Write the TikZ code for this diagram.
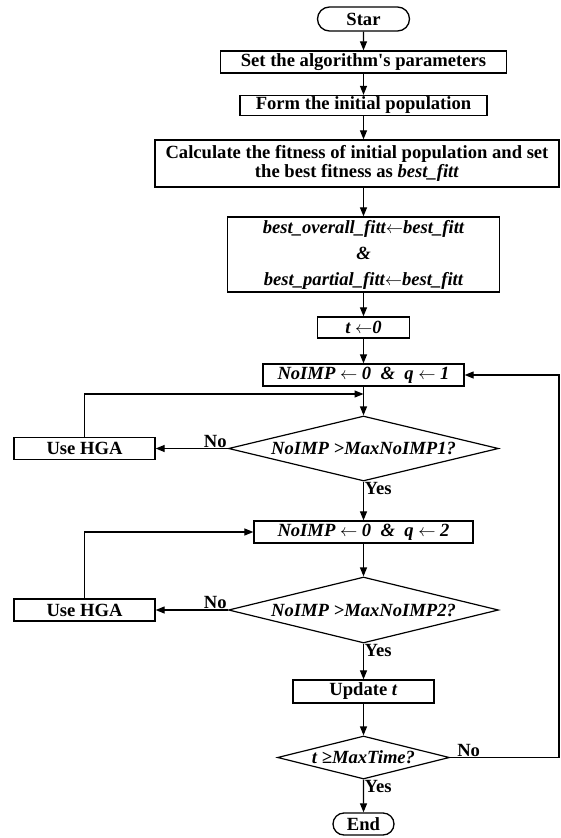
\documentclass[tikz,border=0pt]{standalone}
\usepackage{fontspec}
\setmainfont{Liberation Serif}
\usepackage{tikz}
\usetikzlibrary{arrows.meta,shapes.geometric,shapes.misc}

\begin{document}
\begin{tikzpicture}[x=1pt,y=-1pt,
    box/.style={draw,line width=1.3pt,rectangle,inner sep=0pt,align=center,
      font=\fontsize{18.6}{19}\selectfont\bfseries},
    term/.style={box,rounded rectangle},
    cond/.style={draw,line width=1.2pt,diamond,aspect=4,inner sep=0pt,
      font=\fontsize{18.6}{19}\selectfont\bfseries\itshape},
    lab/.style={inner sep=1pt,font=\fontsize{18.6}{19}\selectfont\bfseries},
    flow/.style={line width=1.2pt,-{Triangle[length=9pt,width=7pt]}}]
  \useasboundingbox (0,0) rectangle (560,838);
  % main column
  \node[term,minimum width=92pt,minimum height=24pt] (star) at (363.5,19) {Star};
  \node[box,minimum width=286pt,minimum height=22pt] (set) at (363.5,62) {Set the algorithm\textquotesingle s parameters};
  \node[box,minimum width=247pt,minimum height=20pt] (form) at (363.5,105.5) {Form the initial population};
  \node[box,minimum width=404pt,minimum height=47pt] (calc) at (357,163.5) {Calculate the fitness of initial population and set\\ the best fitness as \textit{best\_fitt}};
  \node[box,minimum width=272pt,minimum height=75pt,font=\fontsize{18.6}{26}\selectfont\bfseries\itshape] (best) at (363.5,254.5) {best\_overall\_fitt$\leftarrow$best\_fitt\\ \&\\ best\_partial\_fitt$\leftarrow$best\_fitt};
  \node[box,minimum width=92pt,minimum height=21pt] (tz) at (363.5,327.5) {\textit{t $\leftarrow$0}};
  \node[box,minimum width=201pt,minimum height=22pt] (imp1) at (363.5,375) {\textit{NoIMP $\leftarrow$ 0 \ \& \ q $\leftarrow$ 1}};
  \node[cond,minimum width=270pt,minimum height=65pt] (cond1) at (363.5,448.5) {NoIMP >MaxNoIMP1?};
  \node[box,minimum width=141pt,minimum height=22pt] (hga1) at (84.5,448.5) {Use HGA};
  \node[box,minimum width=219pt,minimum height=22pt] (imp2) at (363.5,532) {\textit{NoIMP $\leftarrow$ 0 \ \& \ q $\leftarrow$ 2}};
  \node[cond,minimum width=270pt,minimum height=66pt] (cond2) at (363.5,610) {NoIMP >MaxNoIMP2?};
  \node[box,minimum width=141pt,minimum height=22pt] (hga2) at (84.5,610) {Use HGA};
  \node[box,minimum width=141pt,minimum height=23pt] (upd) at (363.5,691.5) {Update \textit{t}};
  \node[cond,inner sep=-5pt,minimum width=172pt,minimum height=43pt] (cond3) at (363.5,757.5) {t ≥MaxTime?};
  \node[term,minimum width=61pt,minimum height=22pt] (stop) at (363.5,824) {End};
  \coordinate (join1) at (363.5,394);
  \coordinate (back) at (559,0);
  % labels
  \node[lab,anchor=south east] (no1) at (cond1.west) {No};
  \node[lab,anchor=north west] (yes1) at (cond1.south) {Yes};
  \node[lab,anchor=south east] (no2) at (cond2.west) {No};
  \node[lab,anchor=north west] (yes2) at (cond2.south) {Yes};
  \node[lab,anchor=south west,xshift=6pt] (no3) at (cond3.east) {No};
  \node[lab,anchor=north west] (yes3) at (cond3.south) {Yes};
  % connectors
  \draw[flow] (star) -- (set);
  \draw[flow] (set) -- (form);
  \draw[flow] (form.south) -- (form.south |- calc.north);
  \draw[flow] (best.north |- calc.south) -- (best.north);
  \draw[flow] (best) -- (tz);
  \draw[flow] (tz) -- (imp1);
  \draw[flow] (imp1) -- (cond1);
  \draw[flow] (hga1.north) |- (join1);
  \draw[flow] (cond1.west) -- (hga1.east);
  \draw[flow] (cond1) -- (imp2);
  \draw[flow] (imp2) -- (cond2);
  \draw[flow] (hga2.north) |- (imp2.west);
  \draw[flow] (cond2.west) -- (hga2.east);
  \draw[flow] (cond2) -- (upd);
  \draw[flow] (upd) -- (cond3);
  \draw[flow] (cond3) -- (stop);
  \draw[flow] (cond3.east) -- (cond3.east -| back) -- (back |- imp1.east) -- (imp1.east);
\end{tikzpicture}
\end{document}
